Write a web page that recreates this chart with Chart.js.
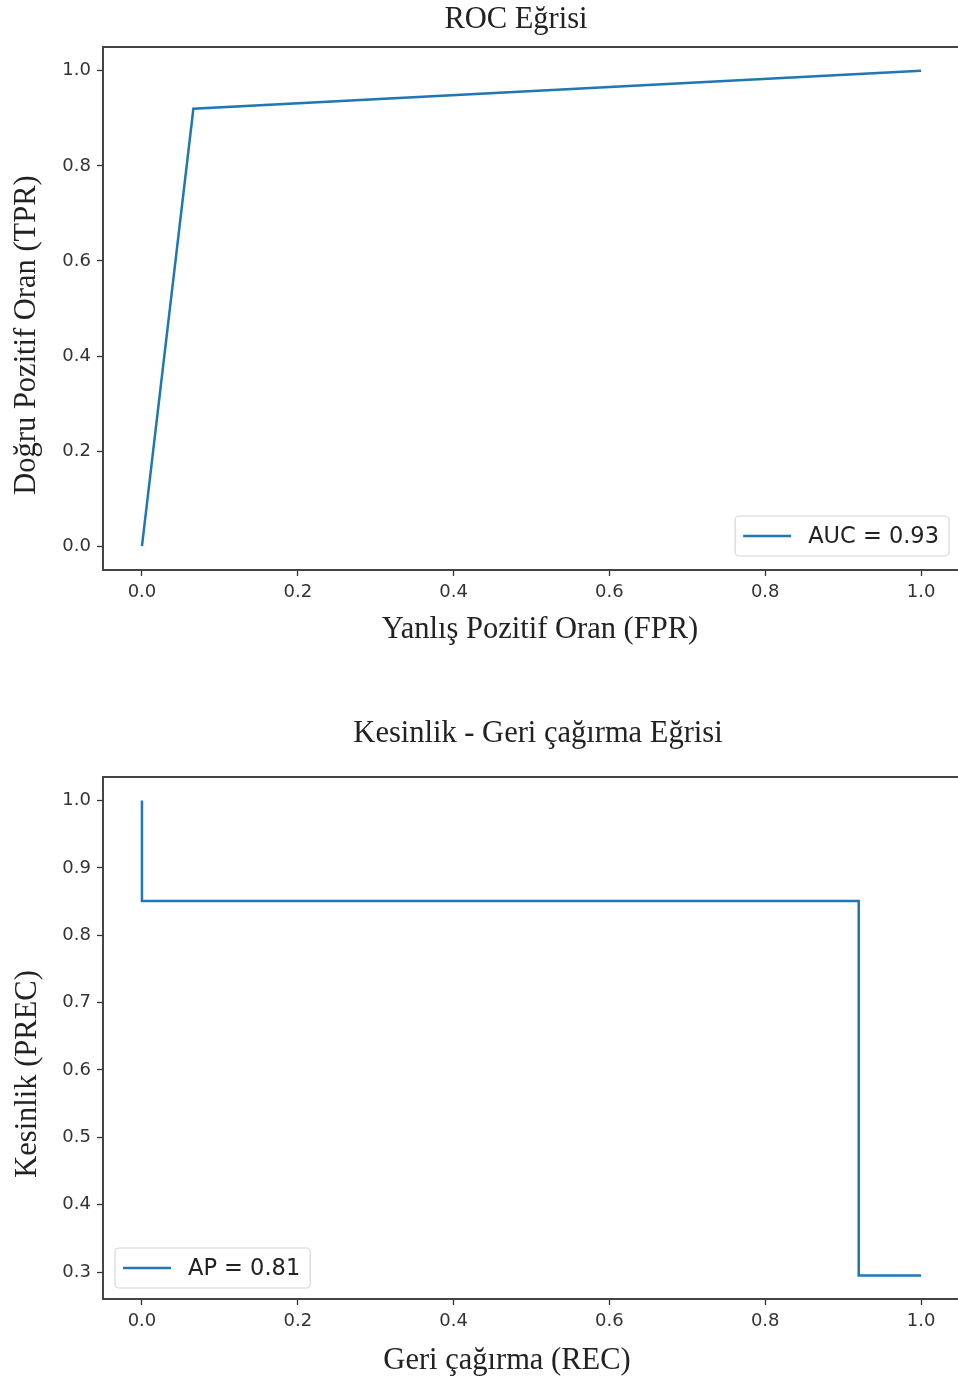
<!DOCTYPE html>
<html><head><meta charset="utf-8">
<script src="https://cdn.jsdelivr.net/npm/chart.js@4.4.0/dist/chart.umd.min.js"></script>
<style>
html,body{margin:0;padding:0;background:#fff;overflow:hidden;width:958px;height:1383px;position:relative;}
.wrap{position:absolute;left:0;width:962px;}
#w1{top:0;height:700px;}
#w2{top:700px;height:683px;}
canvas{display:block;}
</style></head><body>
<div class="wrap" id="w1"><canvas id="c1" width="962" height="700"></canvas></div>
<div class="wrap" id="w2"><canvas id="c2" width="962" height="683"></canvas></div>
<script>
// ---- data ----
const rocFpr = [0.0, 0.066, 1.0];
const rocTpr = [0.0, 0.92, 1.0];
const rocLabel = 'AUC = 0.93';
const prRecall = [1.0, 0.92, 0.0];
const prPrecision = [0.295, 0.851, 1.0];
const prLabel = 'AP = 0.81';
const rocXTicks = [0.0, 0.2, 0.4, 0.6, 0.8, 1.0];
const rocYTicks = [0.0, 0.2, 0.4, 0.6, 0.8, 1.0];
const prXTicks = [0.0, 0.2, 0.4, 0.6, 0.8, 1.0];
const prYTicks = [0.3, 0.4, 0.5, 0.6, 0.7, 0.8, 0.9, 1.0];
const rocTitle = 'ROC Eğrisi';
const rocXTitle = 'Yanlış Pozitif Oran (FPR)';
const rocYTitle = 'Doğru Pozitif Oran (TPR)';
const prTitle = 'Kesinlik - Geri çağırma Eğrisi';
const prXTitle = 'Geri çağırma (REC)';
const prYTitle = 'Kesinlik (PREC)';

Chart.defaults.font.family = "'DejaVu Sans', sans-serif";
Chart.defaults.color = '#333';

const LINE = '#1f77b4';
const SERIF = "30.5px 'Liberation Serif', 'Times New Roman', serif";

const decor = {
  id: 'decor',
  afterDraw(chart, args, o) {
    const ctx = chart.ctx, ca = chart.chartArea;
    ctx.save();
    // frame
    ctx.strokeStyle = '#444';
    ctx.lineWidth = 2;
    ctx.strokeRect(ca.left, ca.top, ca.right - ca.left, ca.bottom - ca.top);
    // texts
    ctx.fillStyle = '#222';
    ctx.font = SERIF;
    ctx.textAlign = 'center';
    ctx.textBaseline = 'middle';
    ctx.fillText(o.title, o.titleX, o.titleY);
    ctx.fillText(o.xTitle, o.xTitleX, o.xTitleY);
    ctx.save();
    ctx.translate(o.yTitleX, o.yTitleY);
    ctx.rotate(-Math.PI / 2);
    ctx.fillText(o.yTitle, 0, 0);
    ctx.restore();
    // legend
    const label = chart.data.datasets[0].label;
    ctx.font = "22.5px 'DejaVu Sans', sans-serif";
    const tw = ctx.measureText(label).width;
    const w = 8 + 48 + 17 + tw + 10, h = 40;
    let x, y;
    if (o.legend === 'lr') { x = ca.right - 11 - w; y = ca.bottom - 14 - h; }
    else { x = ca.left + 12; y = ca.bottom - 11 - h; }
    ctx.beginPath();
    if (ctx.roundRect) ctx.roundRect(x, y, w, h, 4); else ctx.rect(x, y, w, h);
    ctx.fillStyle = 'rgba(255,255,255,0.85)';
    ctx.fill();
    ctx.strokeStyle = '#d6d6d6';
    ctx.lineWidth = 1.2;
    ctx.stroke();
    ctx.strokeStyle = LINE;
    ctx.lineWidth = 2.5;
    ctx.beginPath();
    ctx.moveTo(x + 8, y + h / 2);
    ctx.lineTo(x + 56, y + h / 2);
    ctx.stroke();
    ctx.fillStyle = '#222';
    ctx.textAlign = 'left';
    ctx.textBaseline = 'middle';
    ctx.fillText(label, x + 73, y + h / 2 + 1);
    ctx.restore();
  }
};

function axis(min, max, ticks, fit) {
  return {
    type: 'linear', min: min, max: max,
    afterBuildTicks: s => { s.ticks = ticks.map(v => ({ value: v })); },
    afterFit: fit,
    border: { display: false },
    grid: { drawOnChartArea: false, drawTicks: true, tickLength: 6, color: '#333', tickWidth: 1.3 },
    ticks: { font: { size: 18 }, color: '#333', padding: 6, autoSkip: false, maxRotation: 0,
             callback: v => Number(v).toFixed(1) }
  };
}

function makeChart(id, pts, label, stepped, xr, yr, xt, yt, padTop, xH, deco) {
  return new Chart(document.getElementById(id), {
    type: 'line',
    data: { datasets: [{ label: label, data: pts, borderColor: LINE, borderWidth: 2.5,
      pointRadius: 0, tension: 0, fill: false, stepped: stepped }] },
    options: {
      responsive: false, animation: false, devicePixelRatio: 1,
      layout: { padding: { top: padTop, right: 2, left: 0, bottom: 0 } },
      plugins: { legend: { display: false }, tooltip: { enabled: false }, decor: deco },
      scales: {
        x: axis(xr[0], xr[1], xt, s => { s.height = xH; }),
        y: axis(yr[0], yr[1], yt, s => { s.width = 103; })
      }
    },
    plugins: [decor]
  });
}

makeChart('c1', rocFpr.map((v, i) => ({ x: v, y: rocTpr[i] })), rocLabel, false,
  [-0.05, 1.05], [-0.05, 1.05], rocXTicks, rocYTicks, 47, 130,
  { title: rocTitle, titleX: 516, titleY: 20, xTitle: rocXTitle, xTitleX: 540, xTitleY: 630,
    yTitle: rocYTitle, yTitleX: 27, yTitleY: 335, legend: 'lr' });

makeChart('c2', prRecall.map((v, i) => ({ x: v, y: prPrecision[i] })), prLabel, 'before',
  [-0.05, 1.05], [0.26, 1.035], prXTicks, prYTicks, 77, 84,
  { title: prTitle, titleX: 538, titleY: 34, xTitle: prXTitle, xTitleX: 507, xTitleY: 661,
    yTitle: prYTitle, yTitleX: 28, yTitleY: 374, legend: 'll' });
</script>
</body></html>
